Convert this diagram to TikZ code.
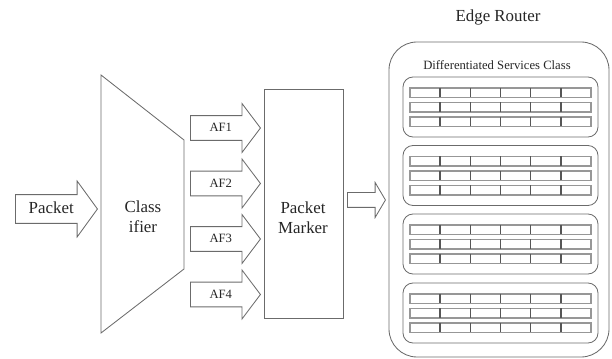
\documentclass[tikz,border=0pt]{standalone}
\usepackage{fontspec}
\setmainfont{Liberation Serif}
\usetikzlibrary{shapes.arrows}

\definecolor{edgegray}{gray}{0.42}
\definecolor{textgray}{gray}{0.15}

\tikzset{
  fat arrow/.style={single arrow, draw=edgegray, anchor=tail, text=textgray,
    inner xsep=0pt, text height=6.5pt, text depth=1.5pt},
  cellrow/.style={draw=edgegray!70, line width=0.8pt},
  celldiv/.style={draw=edgegray!80!black, line width=1pt},
}

\begin{document}
\begin{tikzpicture}[x=0.025cm, y=-0.025cm, semithick]
  \useasboundingbox (0,0) rectangle (612,359);

  % packet in and classifier
  \node[fat arrow, font=\large, minimum height=2.05cm, text height=8pt, text depth=2pt, inner ysep=4.95pt,
        single arrow head extend=0.3375cm, single arrow tip angle=108] (pkt) at (15,209) {Packet};
  \draw[edgegray] (101,75) -- (184,140) -- (184,269) -- (101,333) -- cycle;
  \node[align=center, font=\large, text=textgray] (cls) at (143,217) {Class\\ifier};

  % assured forwarding classes
  \foreach \i in {1,...,4}
    \node[fat arrow, font=\small, minimum height=1.75cm, inner ysep=4.5pt,
          single arrow head extend=0.3cm, single arrow tip angle=106] (af\i) at (190,{128+55.5*(\i-1)}) {AF\i};

  % marker
  \node[draw=edgegray, minimum width=1.975cm, minimum height=5.725cm] (marker) at (303.5,203.5) {};
  \node[align=center, font=\large, text=textgray] (markertxt) at (303,218) {Packet\\Marker};
  \node[fat arrow, minimum height=0.95cm, inner ysep=4.98pt, text height=0pt, text depth=0pt,
        single arrow head extend=0.25cm, single arrow tip angle=119] (out) at (347,200) {};

  % edge router
  \node[font=\large, text=textgray] (title) at (498,17) {Edge Router};
  \draw[edgegray, rounded corners=0.7cm] (389,42) rectangle (609,357);
  \node[font=\small, text=textgray] (dsc) at (497,65) {Differentiated Services Class};
  \foreach \g in {77,145.5,214,283} {
    \draw[edgegray, rounded corners=0.25cm] (403,\g) rectangle (598,\g+60);
    \foreach \r in {11,25.5,40} {
      \draw[cellrow] (410,\g+\r) rectangle (591,\g+\r+9.5);
      \foreach \c in {1,...,5}
        \draw[celldiv] (410+\c*30.17,\g+\r) -- ++(0,9.5);
    }
  }
\end{tikzpicture}
\end{document}
